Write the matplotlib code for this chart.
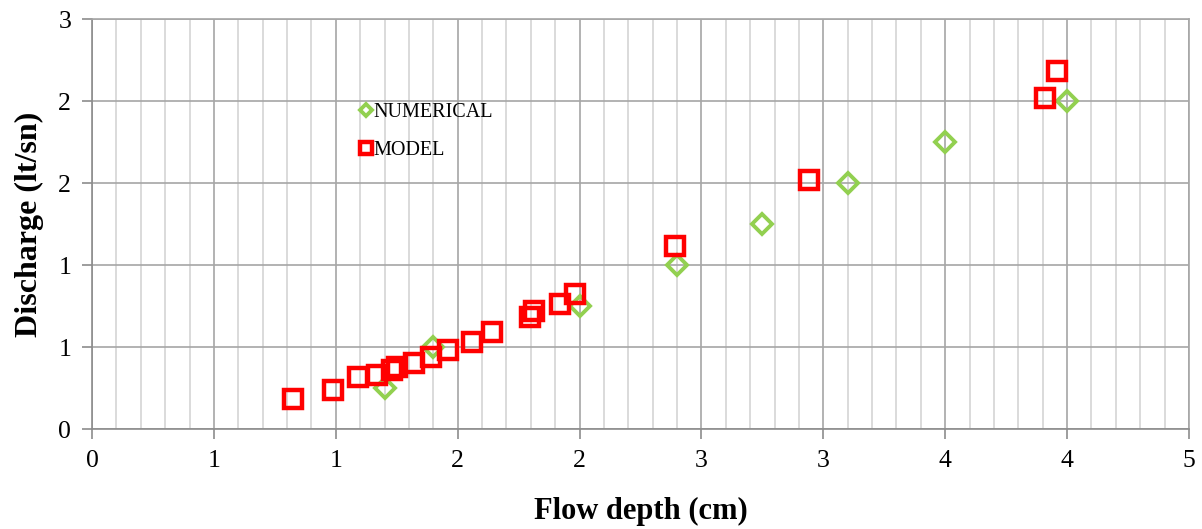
import matplotlib
matplotlib.use("Agg")
import matplotlib.pyplot as plt
from matplotlib.ticker import FixedLocator, FixedFormatter, MultipleLocator

# Data
num_x = [1.2, 1.4, 2.0, 2.4, 2.75, 3.1, 3.5, 4.0]
num_y = [0.25, 0.5, 0.75, 1.0, 1.25, 1.5, 1.75, 2.0]

model_x = [0.825, 0.99, 1.09, 1.17, 1.23, 1.25, 1.32, 1.39, 1.46, 1.56, 1.64,
           1.795, 1.815, 1.92, 1.98, 2.39, 2.94, 3.91, 3.96]
model_y = [0.18, 0.24, 0.32, 0.33, 0.36, 0.38, 0.40, 0.44, 0.48, 0.53, 0.59,
           0.685, 0.72, 0.76, 0.825, 1.115, 1.52, 2.02, 2.18]

x_ticks = [0, 0.5, 1.0, 1.5, 2.0, 2.5, 3.0, 3.5, 4.0, 4.5]
x_tick_labels = ["0", "1", "1", "2", "2", "3", "3", "4", "4", "5"]
y_ticks = [0, 0.5, 1.0, 1.5, 2.0, 2.5]
y_tick_labels = ["0", "1", "1", "2", "2", "3"]

W, H = 1202, 529
fig = plt.figure(figsize=(W / 100, H / 100), dpi=100)
left, right, bottom, top = 92, 1189, 429, 19
ax = fig.add_axes([left / W, (H - bottom) / H, (right - left) / W, (bottom - top) / H])

serif = ["Liberation Serif", "DejaVu Serif"]

ax.set_xlim(0, 4.5)
ax.set_ylim(0, 2.5)
ax.xaxis.set_major_locator(FixedLocator(x_ticks))
ax.xaxis.set_major_formatter(FixedFormatter(x_tick_labels))
ax.yaxis.set_major_locator(FixedLocator(y_ticks))
ax.yaxis.set_major_formatter(FixedFormatter(y_tick_labels))
ax.xaxis.set_minor_locator(MultipleLocator(0.1))

ax.grid(which="major", axis="both", color="#A6A6A6", linewidth=1.2, zorder=0)
ax.grid(which="minor", axis="x", color="#D4D4D4", linewidth=1.2, zorder=0)
ax.set_axisbelow(True)

for s in ["left", "bottom"]:
    ax.spines[s].set_color("#8C8C8C")
    ax.spines[s].set_linewidth(1.2)
for s in ["top", "right"]:
    ax.spines[s].set_color("#A6A6A6")
    ax.spines[s].set_linewidth(1.2)

ax.tick_params(axis="both", which="major", direction="out", length=7, width=1.2,
               color="#8C8C8C", labelsize=18.5, pad=8)
ax.tick_params(axis="x", which="minor", length=0)
for lab in ax.get_xticklabels() + ax.get_yticklabels():
    lab.set_family(serif)

ax.plot(num_x, num_y, linestyle="none", marker="D", markersize=10,
        markerfacecolor="none", markeredgecolor="#92D050", markeredgewidth=2.8,
        label="NUMERICAL", zorder=3)
ax.plot(model_x, model_y, linestyle="none", marker="s", markersize=13.5,
        markerfacecolor="none", markeredgecolor="#FF0000", markeredgewidth=3.2,
        label="MODEL", zorder=4)

leg = ax.legend(loc="upper left", bbox_to_anchor=(0.229, 0.84), frameon=False,
                markerscale=0.6, handlelength=0.5, handletextpad=0.1,
                labelspacing=0.95, prop={"family": serif, "size": 14.5})

ax.set_xlabel("Flow depth (cm)", fontsize=22, fontweight="bold", family=serif, labelpad=18)
ax.set_ylabel("Discharge (lt/sn)", fontsize=23, fontweight="bold", family=serif, labelpad=10)

fig.savefig("out.png", dpi=100)
